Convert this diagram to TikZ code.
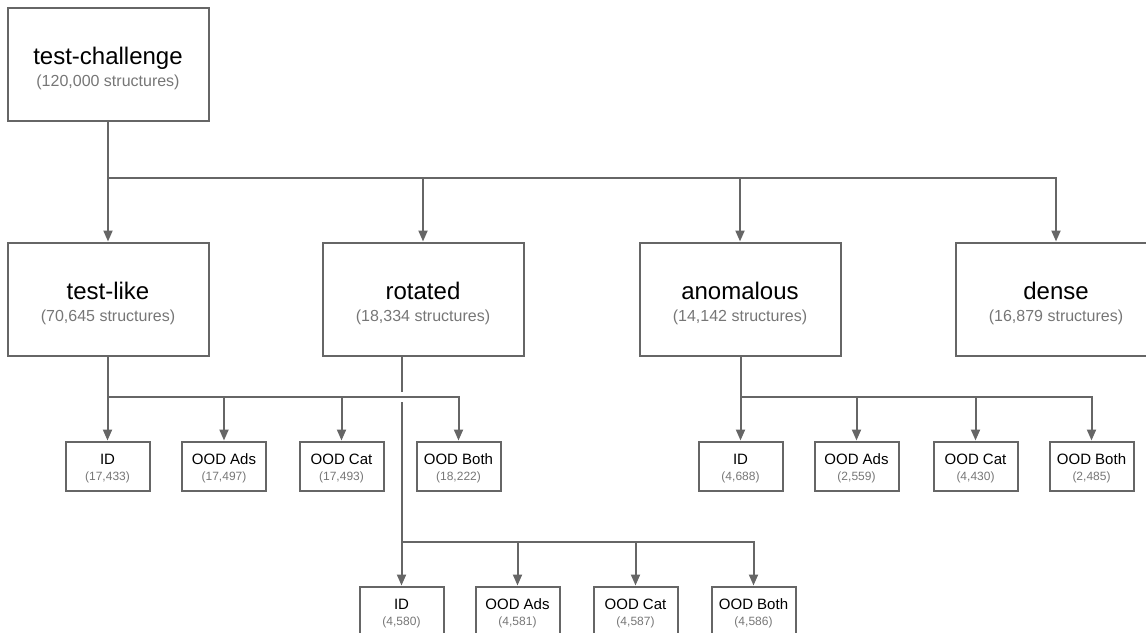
\documentclass[tikz,border=0pt]{standalone}
\usepackage{fontspec}
\setmainfont{Liberation Sans}
\usetikzlibrary{arrows.meta}
\definecolor{edge}{HTML}{666666}
\definecolor{note}{HTML}{767676}

\newcommand{\bigtxt}[2]{\rule{0pt}{25.5pt}#1\\{\fontsize{16}{19}\selectfont\textcolor{note}{#2}}}
\newcommand{\smalltxt}[2]{\rule{0pt}{14.9pt}#1\\{\fontsize{12}{14}\selectfont\textcolor{note}{#2}}}

\begin{document}
\begin{tikzpicture}[
  x=1pt, y=-1pt,
  big/.style={draw=edge, line width=2pt, minimum width=201pt, minimum height=113pt, align=center, inner sep=0pt, font=\fontsize{24}{22}\selectfont},
  small/.style={draw=edge, line width=2pt, minimum width=84pt, minimum height=49pt, align=center, inner sep=0pt, font=\fontsize{15}{15.7}\selectfont},
  link/.style={line width=2pt, draw=edge},
  flow/.style={link, -{Triangle[length=11pt,width=9pt]}}
]
\useasboundingbox (0,0) rectangle (1146,632);

\node[big] (root) at (108,64.5) {\bigtxt{test-challenge}{(120,000 structures)}};

\node[big] (testlike) at (108,299) {\bigtxt{test-like}{(70,645 structures)}};
\node[big] (rotated) at (423,299) {\bigtxt{rotated}{(18,334 structures)}};
\node[big] (anomalous) at (740,299) {\bigtxt{anomalous}{(14,142 structures)}};
\node[big] (dense) at (1056,299) {\bigtxt{dense}{(16,879 structures)}};

% top level split
\coordinate (rj) at (108,177.5);
\draw[link] (root) -- (rj);
\draw[flow] (rj) -- (testlike);
\draw[flow] (rj) -| (rotated);
\draw[flow] (rj) -| (anomalous);
\draw[flow] (rj) -| (dense);

% test-like splits
\node[small] (tlid) at (107.5,466) {\smalltxt{ID}{(17,433)}};
\node[small] (tlads) at (224,466) {\smalltxt{OOD Ads}{(17,497)}};
\node[small] (tlcat) at (341.5,466) {\smalltxt{OOD Cat}{(17,493)}};
\node[small] (tlboth) at (458.5,466) {\smalltxt{OOD Both}{(18,222)}};

\coordinate (tj) at (107.5,397);
\draw[link] (testlike.south -| tj) -- (tj);
\draw[flow] (tj) -- (tlid);
\draw[flow] (tj) -| (tlads);
\draw[flow] (tj) -| (tlcat);
\draw[flow] (tj) -| (tlboth);

% anomalous splits
\node[small] (anid) at (740.5,466) {\smalltxt{ID}{(4,688)}};
\node[small] (anads) at (856.5,466) {\smalltxt{OOD Ads}{(2,559)}};
\node[small] (ancat) at (975.5,466) {\smalltxt{OOD Cat}{(4,430)}};
\node[small] (anboth) at (1091.5,466) {\smalltxt{OOD Both}{(2,485)}};

\coordinate (aj) at (740.5,397);
\draw[link] (anomalous.south -| aj) -- (aj);
\draw[flow] (aj) -- (anid);
\draw[flow] (aj) -| (anads);
\draw[flow] (aj) -| (ancat);
\draw[flow] (aj) -| (anboth);

% rotated splits, stem jumps over the test-like line
\node[small] (roid) at (401.5,611) {\smalltxt{ID}{(4,580)}};
\node[small] (roads) at (517.5,611) {\smalltxt{OOD Ads}{(4,581)}};
\node[small] (rocat) at (635.5,611) {\smalltxt{OOD Cat}{(4,587)}};
\node[small] (roboth) at (753.5,611) {\smalltxt{OOD Both}{(4,586)}};

\coordinate (rs) at (401.5,356);
\coordinate (rgap1) at (401.5,392);
\coordinate (rgap2) at (401.5,402);
\coordinate (rrj) at (401.5,542);
\draw[link] (rs) -- (rgap1);
\draw[link] (rgap2) -- (rrj);
\draw[flow] (rrj) -- (roid);
\draw[flow] (rrj) -| (roads);
\draw[flow] (rrj) -| (rocat);
\draw[flow] (rrj) -| (roboth);
\end{tikzpicture}
\end{document}
